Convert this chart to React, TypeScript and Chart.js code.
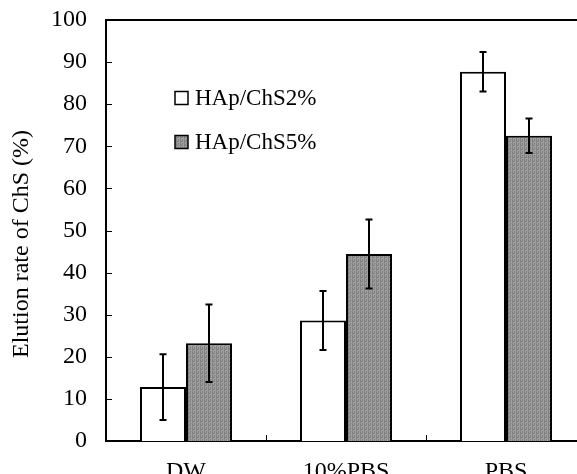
import React, { useEffect, useRef } from 'react';
import { Chart, registerables } from 'chart.js';

Chart.register(...registerables);

const categories = ['DW', '10%PBS', 'PBS'];
const seriesNames = ['HAp/ChS2%', 'HAp/ChS5%'];
const chs2Values = [12.8, 28.6, 87.7];
const chs2Errors = [7.8, 7.0, 4.7];
const chs5Values = [23.2, 44.4, 72.5];
const chs5Errors = [9.2, 8.2, 4.1];
const yTickValues = [0, 10, 20, 30, 40, 50, 60, 70, 80, 90, 100];
const yTitle = 'Elution rate of ChS (%)';

const FONT = "'Liberation Serif', 'Times New Roman', serif";

function makePattern(): CanvasPattern | string {
  const c = document.createElement('canvas');
  c.width = 4;
  c.height = 4;
  const g = c.getContext('2d');
  if (!g) return '#8c8c8c';
  const cols = ['#7c7c7c', '#9a9a9a', '#888888', '#a2a2a2'];
  for (let y = 0; y < 4; y++) {
    for (let x = 0; x < 4; x++) {
      g.fillStyle = cols[(x + y * 2 + (x * y) % 3) % 4];
      g.fillRect(x, y, 1, 1);
    }
  }
  const p = g.createPattern(c, 'repeat');
  return p || '#8c8c8c';
}

export default function App() {
  const ref = useRef<HTMLCanvasElement>(null);

  useEffect(() => {
    if (!ref.current) return;
    const pattern = makePattern();
    const errors = [chs2Errors, chs5Errors];

    const decorPlugin = {
      id: 'decor',
      afterDatasetsDraw(chart: any) {
        const ctx = chart.ctx;
        const ys = chart.scales.y;
        ctx.save();
        ctx.strokeStyle = '#000';
        ctx.lineWidth = 2;
        chart.data.datasets.forEach((ds: any, i: number) => {
          const meta = chart.getDatasetMeta(i);
          meta.data.forEach((bar: any, j: number) => {
            const v = ds.data[j];
            const e = errors[i][j];
            const x = bar.x;
            const yt = ys.getPixelForValue(v + e);
            const yb = ys.getPixelForValue(v - e);
            ctx.beginPath();
            ctx.moveTo(x, yt);
            ctx.lineTo(x, yb);
            ctx.moveTo(x - 3.5, yt);
            ctx.lineTo(x + 3.5, yt);
            ctx.moveTo(x - 3.5, yb);
            ctx.lineTo(x + 3.5, yb);
            ctx.stroke();
          });
        });
        ctx.restore();
      },
      afterDraw(chart: any) {
        const ctx = chart.ctx;
        const a = chart.chartArea;
        const ys = chart.scales.y;
        const xs = chart.scales.x;
        ctx.save();
        ctx.strokeStyle = '#000';
        ctx.lineWidth = 2;
        // top frame line
        ctx.beginPath();
        ctx.moveTo(a.left - 1, a.top);
        ctx.lineTo(a.right, a.top);
        ctx.stroke();
        // inner y ticks
        ctx.lineWidth = 1;
        ctx.beginPath();
        yTickValues.forEach((v) => {
          const y = Math.round(ys.getPixelForValue(v)) + 0.5;
          ctx.moveTo(a.left, y);
          ctx.lineTo(a.left + 6, y);
        });
        // inner x ticks between categories
        for (let i = 1; i < categories.length; i++) {
          const x = Math.round((xs.getPixelForValue(i - 1) + xs.getPixelForValue(i)) / 2) + 0.5;
          ctx.moveTo(x, a.bottom);
          ctx.lineTo(x, a.bottom - 6);
        }
        ctx.stroke();
        // y title
        ctx.fillStyle = '#000';
        ctx.font = `24px ${FONT}`;
        ctx.textAlign = 'center';
        ctx.textBaseline = 'middle';
        ctx.translate(22, 244);
        ctx.rotate(-Math.PI / 2);
        ctx.fillText(yTitle, 0, 0);
        ctx.restore();

        // legend
        ctx.save();
        const fills = ['#ffffff', pattern];
        const centers = [98, 142];
        ctx.font = `23px ${FONT}`;
        ctx.textAlign = 'left';
        ctx.textBaseline = 'middle';
        seriesNames.forEach((name, i) => {
          const cy = centers[i];
          ctx.fillStyle = fills[i] as any;
          ctx.fillRect(175, cy - 6.5, 13, 13);
          ctx.strokeStyle = '#000';
          ctx.lineWidth = 1.5;
          ctx.strokeRect(175, cy - 6.5, 13, 13);
          ctx.fillStyle = '#000';
          ctx.fillText(name, 195, cy + 1);
        });
        ctx.restore();
      },
    };

    const chart = new Chart(ref.current, {
      type: 'bar',
      data: {
        labels: categories,
        datasets: [
          {
            label: seriesNames[0],
            data: chs2Values,
            backgroundColor: '#ffffff',
            borderColor: '#000000',
            borderWidth: 2,
          },
          {
            label: seriesNames[1],
            data: chs5Values,
            backgroundColor: pattern as any,
            borderColor: '#000000',
            borderWidth: 2,
          },
        ],
      },
      options: {
        responsive: false,
        animation: false,
        events: [],
        layout: { padding: { top: 20, right: 4, left: 0, bottom: 0 } },
        datasets: {
          bar: { categoryPercentage: 0.575, barPercentage: 1.0 },
        },
        plugins: {
          legend: { display: false },
          tooltip: { enabled: false },
          title: { display: false },
        },
        scales: {
          x: {
            grid: { display: false, drawTicks: false },
            border: { display: true, color: '#000', width: 2 },
            ticks: {
              color: '#000',
              font: { family: FONT, size: 24 },
              padding: 16,
              maxRotation: 0,
              autoSkip: false,
            },
            afterFit(scale: any) {
              scale.height = 33;
              scale.paddingLeft = 0;
              scale.paddingRight = 0;
            },
          },
          y: {
            min: 0,
            max: 100,
            grid: { display: false, drawTicks: false },
            border: { display: true, color: '#000', width: 2 },
            ticks: {
              stepSize: 10,
              color: '#000',
              font: { family: FONT, size: 24 },
              padding: 19,
              autoSkip: false,
            },
            afterFit(scale: any) {
              scale.width = 106;
              scale.paddingTop = 0;
              scale.paddingBottom = 0;
            },
          },
        },
      },
      plugins: [decorPlugin],
    });

    return () => chart.destroy();
  }, []);

  return (
    <div
      style={{
        position: 'fixed',
        left: 0,
        top: 0,
        width: 577,
        height: 474,
        overflow: 'hidden',
        background: '#fff',
      }}
    >
      <canvas ref={ref} width={590} height={474} style={{ display: 'block' }} />
    </div>
  );
}
